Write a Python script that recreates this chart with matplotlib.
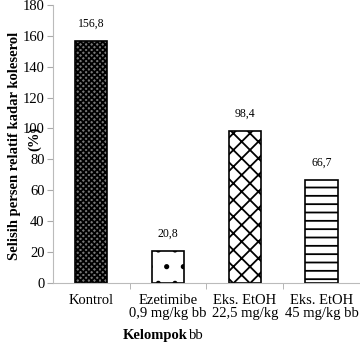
import matplotlib.pyplot as plt

kelompok = ["Kontrol", "Ezetimibe\n0,9 mg/kg bb", "Eks. EtOH\n22,5 mg/kg", "Eks. EtOH\n45 mg/kg bb"]
selisih = [156.8, 20.8, 98.4, 66.7]
label_nilai = ["156,8", "20,8", "98,4", "66,7"]
pola = ["xxxxxx", ".", "xx", "--"]

plt.rcParams["font.family"] = "Liberation Serif"
plt.rcParams["hatch.linewidth"] = 1.3

fig = plt.figure(figsize=(3.6, 3.48), dpi=100)
ax = fig.add_axes([0.147, 0.187, 0.853, 0.799])

xs = list(range(len(kelompok)))
bars = ax.bar(xs, selisih, width=0.42, color="white", edgecolor="black", linewidth=1.2)
for b, h in zip(bars, pola):
    b.set_hatch(h)
bars[0].set_facecolor("#777777")

for x, y, t in zip(xs, selisih, label_nilai):
    ax.text(x, y + 7, t, ha="center", va="bottom", fontsize=8.5)

ax.set_xlim(-0.5, 3.5)
ax.set_ylim(0, 180)
ax.set_yticks(range(0, 181, 20))
ax.set_xticks(xs)
ax.set_xticklabels(kelompok, fontsize=10.5, linespacing=1.0)
ax.set_xticks([0.5, 1.5, 2.5], minor=True)
ax.tick_params(axis="x", which="major", length=0, pad=8)
ax.tick_params(axis="x", which="minor", length=4, color="#aaaaaa")
ax.tick_params(axis="y", labelsize=10.5, length=4, color="#aaaaaa", pad=2)

for s in ["top", "right"]:
    ax.spines[s].set_visible(False)
ax.spines["left"].set_color("#bbbbbb")
ax.spines["bottom"].set_color("#bbbbbb")

fig.text(0.04, 0.58, "Selisih persen relatif kadar koleserol", rotation=90,
         ha="center", va="center", fontsize=10.5, fontweight="bold")
fig.text(0.095, 0.60, "(%)", rotation=90, ha="center", va="center",
         fontsize=10.5, fontweight="bold")

fig.text(0.52, 0.035, "Kelompok", ha="right", va="center", fontsize=10.5, fontweight="bold")
fig.text(0.525, 0.035, "bb", ha="left", va="center", fontsize=10.5)

fig.savefig("out.png", dpi=100)
